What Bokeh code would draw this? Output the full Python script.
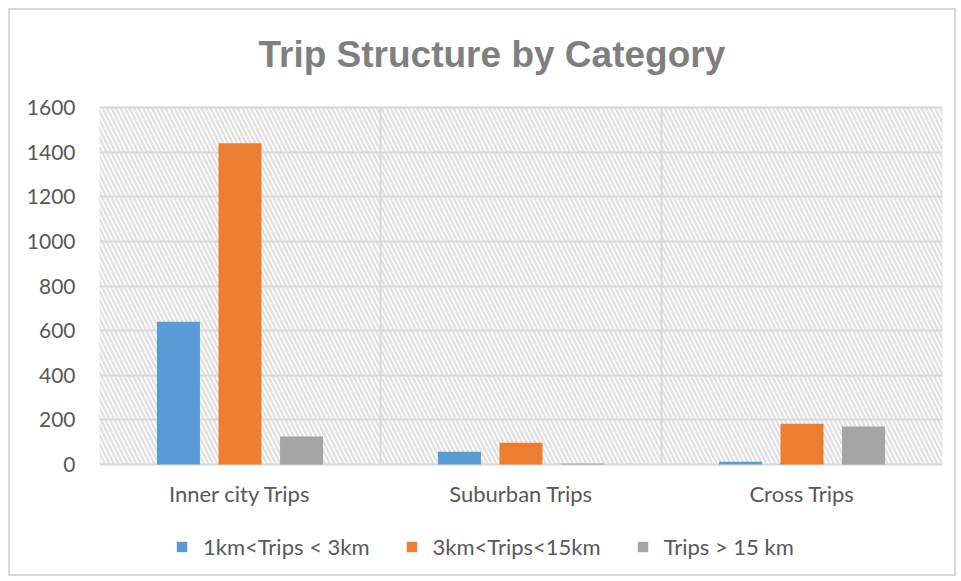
import numpy as np
from bokeh.plotting import figure
from bokeh.models import (Range1d, FixedTicker, BoxAnnotation, Legend, LegendItem, Title)
from bokeh.embed import file_html
from bokeh.resources import INLINE

categories = ["Inner city Trips", "Suburban Trips", "Cross Trips"]
series_names = ["1km<Trips < 3km", "3km<Trips<15km", "Trips > 15 km"]
short_trips = [640, 57, 12]
mid_trips = [1440, 97, 183]
long_trips = [125, 5, 170]
colors = ["#5B9BD5", "#ED7D31", "#A5A5A5"]
y_ticks = [0, 200, 400, 600, 800, 1000, 1200, 1400, 1600]
y_max = 1600

TXT = "#595959"
GRID = "#d9d9d9"
FONT = "Lato"

# layout (pixels)
W, H = 948, 568
top_b, bot_b = 80, 8
plot_px = 357            # height of the value area (0..y_max)
pad_top_px = 17          # empty frame space above y_max
frame_px = H - top_b - bot_b
unit = y_max / plot_px
y_top = y_max + pad_top_px * unit
y_min = -(frame_px - plot_px - pad_top_px) * unit   # room below 0 for labels/legend

p = figure(width=W, height=H, output_backend="svg", toolbar_location=None,
           x_range=Range1d(0, len(categories)), y_range=Range1d(y_min, y_top),
           min_border_left=89, min_border_right=16, min_border_top=top_b,
           min_border_bottom=bot_b, background_fill_color="white",
           border_fill_color="white")
p.margin = (8, 0, 0, 8)
p.styles = {"border": "2px solid #d9d9d9"}

p.title = Title(text="Trip Structure by Category", align="left",
                text_font="Liberation Sans", text_font_size="37px",
                text_font_style="bold", text_color="#7f7f7f", offset=159)
p.title.standoff = 31

# hatched plot-area background with border
hatch = BoxAnnotation(bottom=0, top=y_max, fill_alpha=0, line_color=GRID, line_width=2,
                      hatch_pattern="\\", hatch_color="#e2e2e2", hatch_scale=9,
                      hatch_weight=2.5, level="image")
p.add_layout(hatch)

# vertical separators between categories
bounds = np.arange(1, len(categories))
p.segment(x0=bounds, x1=bounds, y0=0, y1=y_max, line_color=GRID, line_width=2,
          level="underlay")

centers = np.arange(len(categories)) + 0.5
offsets = [-0.219, 0.0, 0.219]
bar_w = 0.153
renderers = []
for vals, off, col in zip([short_trips, mid_trips, long_trips], offsets, colors):
    r = p.vbar(x=centers + off, top=vals, width=bar_w, bottom=0,
               fill_color=col, line_color=None)
    renderers.append(r)

# axes
p.xaxis.fixed_location = 0
p.xaxis.ticker = FixedTicker(ticks=list(centers))
p.xaxis.major_label_overrides = {float(c): n for c, n in zip(centers, categories)}
p.yaxis.ticker = FixedTicker(ticks=y_ticks)
for ax in (p.xaxis[0], p.yaxis[0]):
    ax.axis_line_color = None
    ax.major_tick_line_color = None
    ax.minor_tick_line_color = None
    ax.major_label_text_font = FONT
    ax.major_label_text_color = TXT
p.yaxis.major_label_text_font_size = "21px"
p.xaxis.major_label_text_font_size = "22px"
p.yaxis.major_label_standoff = 18
p.xaxis.major_label_standoff = 9

p.xgrid.visible = False
p.ygrid.grid_line_color = GRID
p.ygrid.grid_line_width = 2
p.outline_line_color = None

legend = Legend(items=[LegendItem(label=n, renderers=[r]) for n, r in zip(series_names, renderers)],
                orientation="horizontal", location=(76, 10),
                label_text_font=FONT, label_text_font_size="22px", label_text_color=TXT,
                glyph_width=13, glyph_height=13, label_standoff=15, spacing=35,
                border_line_color=None, background_fill_alpha=0, padding=6, margin=0)
p.add_layout(legend, "center")

open("out.html", "w").write(file_html(p, INLINE))
